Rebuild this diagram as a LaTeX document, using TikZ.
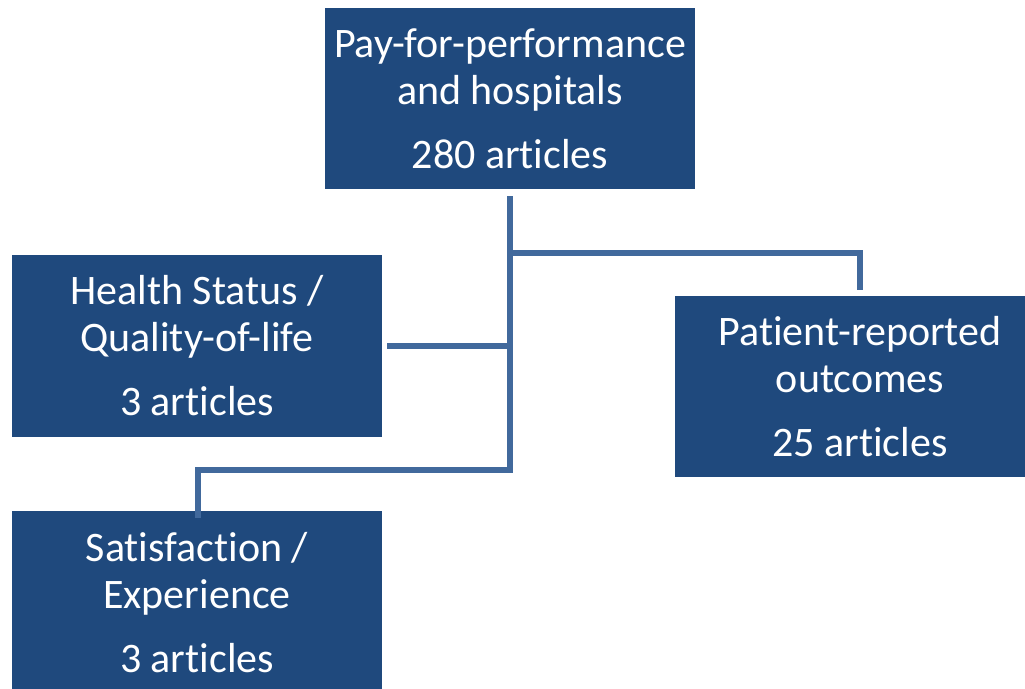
\documentclass[tikz,border=0pt]{standalone}
\usepackage{fontspec}
\setmainfont{Carlito}[Ligatures={NoCommon}]
\definecolor{boxblue}{HTML}{1F497D}
\definecolor{lineblue}{HTML}{41699C}
\begin{document}
\begin{tikzpicture}[x=0.5pt,y=-0.5pt,
  box/.style={fill=boxblue, draw=none, text=white, align=center,
    font=\fontsize{21pt}{23.5pt}\selectfont, inner sep=0pt},
  conn/.style={draw=lineblue, line width=3pt, line join=miter}]
\useasboundingbox (0,0) rectangle (1025,689);
\clip (0,0) rectangle (1025,689);
\node[box, minimum width=185pt, minimum height=90.5pt] (top) at (510,98.5)
  {Pay-for-performance\\and hospitals\\[8.5pt]280 articles};
\node[box, minimum width=185pt, minimum height=91pt] (health) at (197,346)
  {Health Status /\\Quality-of-life\\[8.5pt]3 articles};
\node[box, minimum width=185pt, minimum height=90.5pt] (pat) at (860,386.5)
  {Patient-reported\\outcomes\\[8.5pt]25 articles};
\node[box, minimum width=185pt, minimum height=91pt] (sat) at (197,602.5)
  {Satisfaction /\\Experience\\[8.5pt]3 articles};
\coordinate (jtop) at (510,253.5);
\coordinate (jmid) at (510,346);
\coordinate (jbot) at (510,470);
\draw[conn, shorten <=3.5pt] (top.south) -- (jbot) -| ([xshift=0.5pt,yshift=-3.5pt]sat.north);
\draw[conn, shorten >=3pt] (jtop) -| (pat.north);
\draw[conn, shorten <=2.5pt] (health.east) -- (jmid);
\end{tikzpicture}
\end{document}
